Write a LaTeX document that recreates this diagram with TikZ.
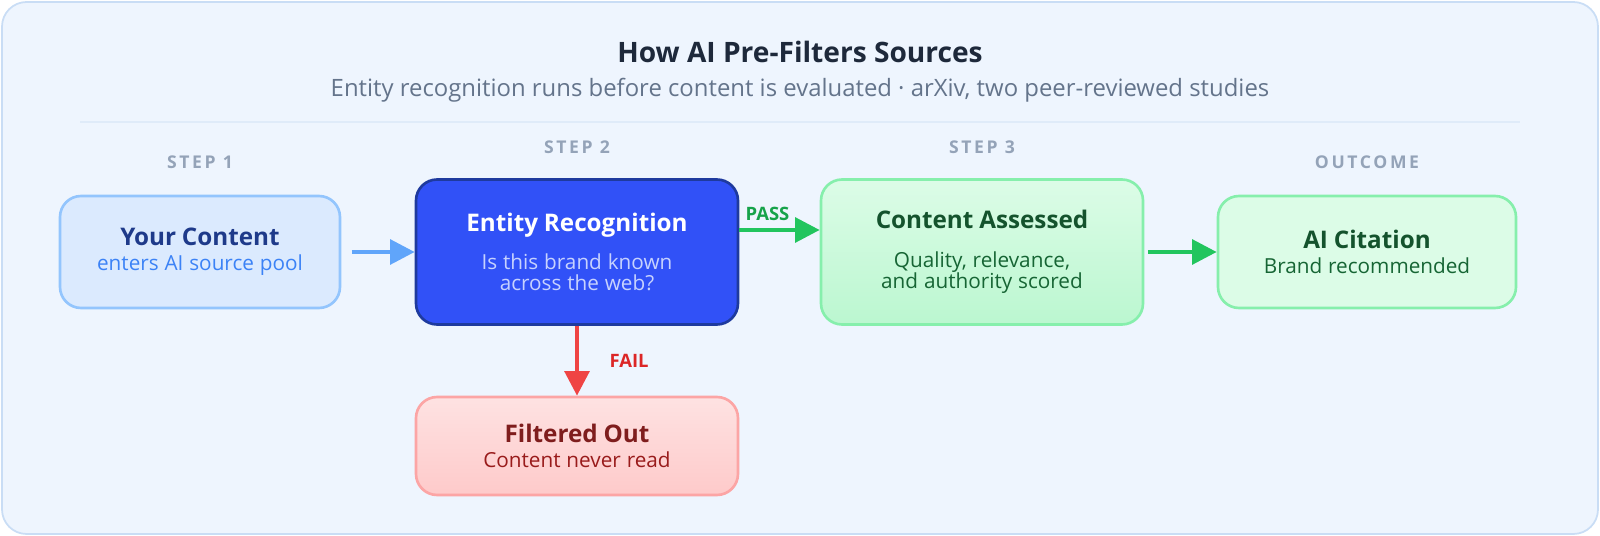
\documentclass[tikz,border=0pt]{standalone}
\usepackage{fontspec}
\setmainfont{Open Sans}
\usetikzlibrary{arrows.meta,positioning}
\definecolor{bgfill}{HTML}{EEF5FE}
\definecolor{bgline}{HTML}{C9DDF5}
\definecolor{titlec}{HTML}{1E293B}
\definecolor{subc}{HTML}{64748B}
\definecolor{stepc}{HTML}{94A3B8}
\definecolor{blueA}{HTML}{DBEAFE}
\definecolor{blueB}{HTML}{93C5FD}
\definecolor{blueT}{HTML}{1E3A8A}
\definecolor{blueS}{HTML}{3B82F6}
\definecolor{blueArr}{HTML}{60A5FA}
\definecolor{entFill}{HTML}{3151F7}
\definecolor{entLine}{HTML}{1E3A9E}
\definecolor{entS}{HTML}{C7D2FE}
\definecolor{greenA}{HTML}{DCFCE7}
\definecolor{greenB}{HTML}{BBF7D0}
\definecolor{greenL}{HTML}{86EFAC}
\definecolor{greenT}{HTML}{14532D}
\definecolor{greenS}{HTML}{166534}
\definecolor{greenArr}{HTML}{22C55E}
\definecolor{redA}{HTML}{FEE2E2}
\definecolor{redB}{HTML}{FECACA}
\definecolor{redL}{HTML}{FCA5A5}
\definecolor{redT}{HTML}{7F1D1D}
\definecolor{redS}{HTML}{991B1B}
\definecolor{redArr}{HTML}{EF4444}
\definecolor{redLab}{HTML}{DC2626}
\definecolor{greenLab}{HTML}{16A34A}
\newcommand\boxttl{\fontsize{13.8}{16}\selectfont\bfseries}
\newcommand\boxtxt{\fontsize{11.8}{18}\selectfont}
\tikzset{
  box/.style={draw,rounded corners=12pt,line width=1.5pt,align=center,inner sep=0pt},
  steplab/.style={text=stepc,font=\fontsize{10}{11}\selectfont\bfseries\addfontfeatures{LetterSpace=15}},
  flow/.style={line width=2.4pt,-{Triangle[length=14pt,width=14pt]}}
}
\begin{document}
\begin{tikzpicture}[x=0.02cm,y=-0.02cm]

% Hintergrund
\useasboundingbox (0,0) rectangle (1600,536);
\draw[bgline,fill=bgfill,line width=1pt,rounded corners=14pt] (2,2) rectangle (1598,534);

% Titel
\node[text=titlec,font=\fontsize{16}{19}\selectfont\bfseries] (title) at (800,52) {How AI Pre-Filters Sources};
\node[text=subc,font=\fontsize{13.6}{16}\selectfont] (sub) at (800,90) {Entity recognition runs before content is evaluated · arXiv, two peer-reviewed studies};
\draw[bgline!60,line width=0.8pt] (80,122) -- (1520,122);

% Schritte
\node[steplab] (s1) at (200,162) {STEP 1};
\node[steplab] (s2) at (577,147) {STEP 2};
\node[steplab] (s3) at (982,147) {STEP 3};
\node[steplab] (s4) at (1367,162) {OUTCOME};

% Kästen
\node[box,draw=blueB,fill=blueA,text width=270*0.02cm,minimum width=280*0.02cm,minimum height=112*0.02cm] (content) at (200,252)
  {{\color{blueT}\boxttl Your Content}\\[2pt]{\color{blueS}\boxtxt enters AI source pool}};
\node[box,draw=entLine,fill=entFill,text width=310*0.02cm,minimum width=322*0.02cm,minimum height=145*0.02cm] (entity) at (577,252)
  {{\color{white}\boxttl Entity Recognition}\\[4pt]{\color{entS}\boxtxt Is this brand known\\across the web?}};
\node[box,draw=greenL,top color=greenA,bottom color=greenB,text width=310*0.02cm,minimum width=322*0.02cm,minimum height=145*0.02cm] (assess) at (982,252)
  {{\color{greenT}\boxttl Content Assessed}\\[4pt]{\color{greenS}\boxtxt Quality, relevance,\\and authority scored}};
\node[box,draw=greenL,fill=greenA,text width=290*0.02cm,minimum width=298*0.02cm,minimum height=112*0.02cm] (cite) at (1367,252)
  {{\color{greenT}\boxttl AI Citation}\\[2pt]{\color{greenS}\boxtxt Brand recommended}};
\node[box,draw=redL,top color=redA,bottom color=redB,text width=310*0.02cm,minimum width=322*0.02cm,minimum height=98*0.02cm] (filtered) at (577,446)
  {{\color{redT}\boxttl Filtered Out}\\[2pt]{\color{redS}\boxtxt Content never read}};

% Pfeile
\draw[flow,blueArr] ([xshift=6pt]content.east) -- (entity.west);
\draw[flow,greenArr] ([yshift=22*0.02cm]entity.east) -- ([yshift=22*0.02cm]assess.west)
  node[pos=0.35,above=1pt,text=greenLab,font=\fontsize{10.5}{12}\selectfont\bfseries] (pass) {PASS};
\draw[flow,greenArr] ([xshift=2pt]assess.east) -- (cite.west);
\draw[flow,redArr] (entity.south) -- (filtered.north)
  node[midway,right=14pt,text=redLab,font=\fontsize{10.5}{12}\selectfont\bfseries] (fail) {FAIL};

\end{tikzpicture}
\end{document}
